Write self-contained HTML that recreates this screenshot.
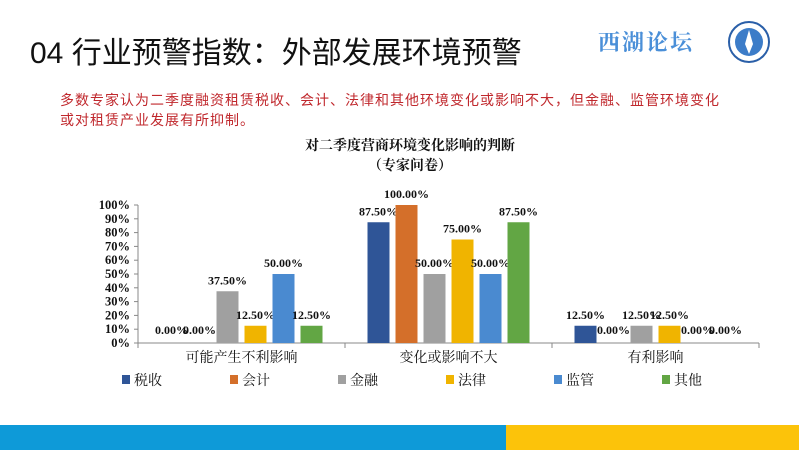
<!DOCTYPE html>
<html><head><meta charset="utf-8"><style>
body{margin:0;width:799px;height:450px;overflow:hidden;background:#fff;font-family:"Liberation Sans","Noto Sans CJK SC",sans-serif;position:relative}
.abs{position:absolute}
</style></head><body>
<div class="abs" style="left:30px;top:28px;font-size:30px;color:#111;font-family:'Liberation Sans','Noto Sans CJK SC',sans-serif">04 行业预警指数：外部发展环境预警</div>
<div class="abs" style="left:598px;top:26px;font-size:22px;color:#4a8fd8;font-weight:bold;font-family:'Noto Serif CJK SC',serif;letter-spacing:2px">西湖论坛</div>
<svg class="abs" style="left:727px;top:20px" width="44" height="44"><circle cx="22" cy="22" r="20" fill="#fff" stroke="#2a5fa8" stroke-width="2"/><circle cx="22" cy="22" r="14" fill="#3c7cc8"/><path d="M22 10 L26 24 L22 34 L18 24 Z" fill="#fff"/></svg>
<div class="abs" style="left:60px;top:90px;width:720px;font-size:14px;line-height:20px;color:#c0282d;letter-spacing:1px">多数专家认为二季度融资租赁税收、会计、法律和其他环境变化或影响不大，但金融、监管环境变化<br>或对租赁产业发展有所抑制。</div>
<svg class="abs" style="left:0;top:0" width="799" height="450" id="chart">
<text x="410" y="150" text-anchor="middle" font-size="14" font-weight="bold" font-family="'Noto Serif CJK SC',serif" fill="#111">对二季度营商环境变化影响的判断</text>
<text x="410" y="170" text-anchor="middle" font-size="14" font-weight="bold" font-family="'Noto Serif CJK SC',serif" fill="#111">（专家问卷）</text>
</svg>
<div class="abs" style="left:0;top:425px;width:506px;height:25px;background:#0e9ad8"></div>
<div class="abs" style="left:506px;top:425px;width:293px;height:25px;background:#fcc30a"></div>
<script>
const categories=["可能产生不利影响","变化或影响不大","有利影响"];
const seriesNames=["税收","会计","金融","法律","监管","其他"];
const colors=["#2f5597","#d46f2a","#a0a0a0","#f0b400","#4a8ad0","#62a644"];
const tax=[0,87.5,12.5];
const accounting=[0,100,0];
const finance=[37.5,50,12.5];
const law=[12.5,75,12.5];
const regulation=[50,50,0];
const other=[12.5,87.5,0];
const series=[tax,accounting,finance,law,regulation,other];
const yTicks=[0,10,20,30,40,50,60,70,80,90,100];
const svg=document.getElementById('chart');const NS='http://www.w3.org/2000/svg';
const x0=138,gw=207,y0=343,y1=205;
const y=v=>y0-(v/100)*(y0-y1);
function mk(t,a,txt){const e=document.createElementNS(NS,t);for(const k in a)e.setAttribute(k,a[k]);if(txt!=null)e.textContent=txt;svg.appendChild(e);return e;}
const serif="'Liberation Serif','Noto Serif CJK SC',serif";
yTicks.forEach(t=>{const e=mk('text',{x:x0-8,y:y(t)+4,'text-anchor':'end','font-size':12.5,'font-weight':'bold','font-family':serif,fill:'#111'},t+'%');


mk('line',{x1:x0-4,x2:x0,y1:y(t),y2:y(t),stroke:'#888'});});
const ax=mk('line',{x1:x0,x2:x0+gw*3,y1:y0,y2:y0,stroke:'#888'});


mk('line',{x1:x0,x2:x0,y1:y1,y2:y0,stroke:'#888'});
for(let i=0;i<=3;i++)mk('line',{x1:x0+gw*i,x2:x0+gw*i,y1:y0,y2:y0+5,stroke:'#888'});
categories.forEach((c,i)=>{const e=mk('text',{x:x0+gw*i+gw/2,y:y0+19,'text-anchor':'middle','font-size':14,'font-family':serif,fill:'#111'},c);

});
const bw=22,step=28;
series.forEach((s,si)=>{s.forEach((v,ci)=>{const bx=x0+gw*ci+gw/2-step*3+3+si*step;
if(v>0){const r=mk('rect',{x:bx,y:y(v),width:bw,height:y0-y(v),fill:colors[si]});

}
const lbl=mk('text',{x:bx+bw/2,y:y(v)-7+(v===0?-2:0),'text-anchor':'middle','font-size':12,'font-weight':'bold','font-family':serif,fill:'#111'},v.toFixed(2)+'%');

});});
seriesNames.forEach((n,i)=>{const lx=122+i*108;
const r=mk('rect',{x:lx,y:375,width:8,height:9,fill:colors[i]});


const t=mk('text',{x:lx+12,y:385,'font-size':14,'font-family':serif,fill:'#111'},n);

});
</script>
</body></html>
